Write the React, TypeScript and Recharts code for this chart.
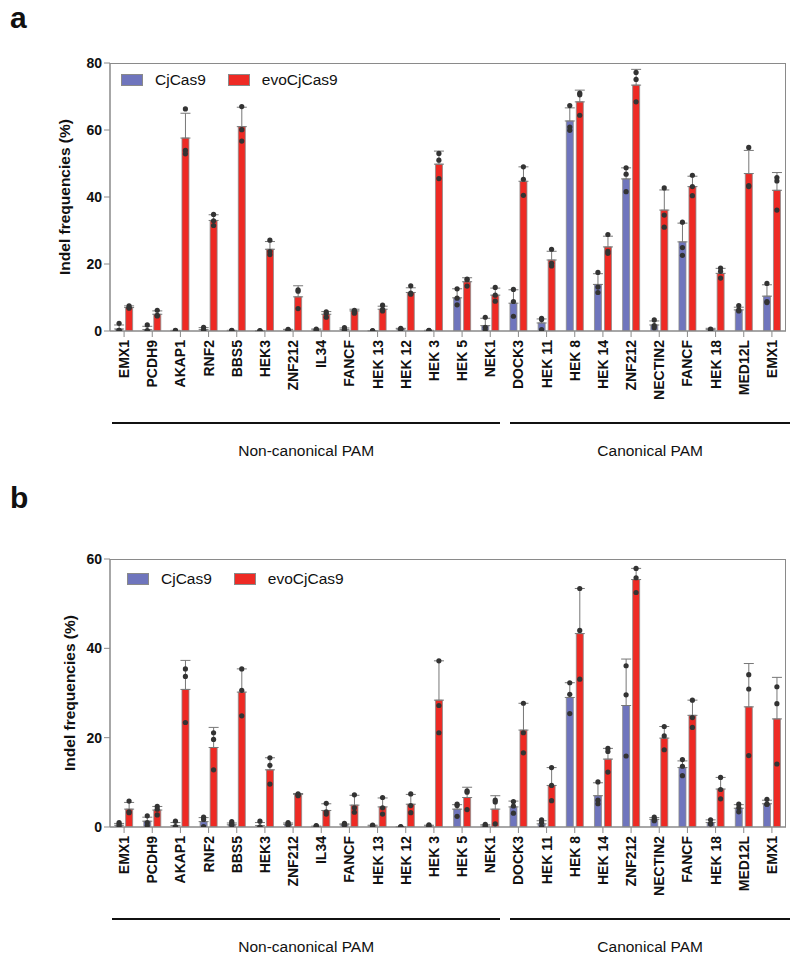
import {
  Bar,
  ComposedChart,
  ErrorBar,
  Legend,
  Scatter,
  XAxis,
  YAxis,
} from 'recharts'

const FONT = '"Liberation Sans", Arial, Helvetica, sans-serif'
const BLUE = '#6f75bd'
const RED = '#ee2a24'
const EDGE = '#8a8a8a'
const DOT = '#333333'

const SERIES = ['CjCas9', 'evoCjCas9']

const SITES = [
  'EMX1', 'PCDH9', 'AKAP1', 'RNF2', 'BBS5', 'HEK3', 'ZNF212', 'IL34', 'FANCF',
  'HEK 13', 'HEK 12', 'HEK 3', 'HEK 5', 'NEK1',
  'DOCK3', 'HEK 11', 'HEK 8', 'HEK 14', 'ZNF212', 'NECTIN2', 'FANCF', 'HEK 18',
  'MED12L', 'EMX1',
]

// panel a
const A_TICKS = [0, 20, 40, 60, 80]
const A_CJ = [0.6, 0.4, 0.1, 0.4, 0.1, 0.05, 0.3, 0.3, 0.4, 0.05, 0.6, 0.1, 9.9, 1.6, 8.3, 2.4, 62.7, 13.9, 45.4, 1.8, 26.6, 0.4, 6.3, 10.4]
const A_CJ_SD = [1.2, 1.0, 0.1, 0.6, 0.1, 0.05, 0.2, 0.3, 0.5, 0.05, 0.2, 0.1, 2.7, 2.2, 4.0, 1.2, 3.9, 3.2, 3.3, 1.2, 5.6, 0.4, 0.8, 3.4]
const A_EVO = [7.0, 5.0, 57.6, 33.0, 61.0, 24.4, 10.2, 5.0, 6.0, 6.5, 11.5, 49.8, 14.7, 10.7, 44.7, 21.2, 68.4, 25.1, 73.4, 36.1, 43.1, 17.2, 47.0, 42.0]
const A_EVO_SD = [0.5, 1.0, 7.4, 1.7, 5.8, 2.3, 3.3, 0.8, 0.5, 0.9, 1.4, 3.9, 1.2, 2.1, 4.3, 2.6, 3.5, 3.2, 4.7, 6.0, 3.1, 1.5, 6.9, 5.3]
const A_CJ_PTS = [
  [2.3, 0.2, 0.1], [1.8, 0.1, 0.0], [0.2, 0.1, 0.0], [1.1, 0.3, 0.1], [0.2, 0.1, 0.0],
  [0.1, 0.0, 0.0], [0.5, 0.3, 0.2], [0.6, 0.3, 0.1], [1.0, 0.3, 0.1], [0.1, 0.0, 0.0],
  [0.8, 0.6, 0.5], [0.2, 0.1, 0.0], [12.6, 9.8, 7.8], [4.1, 1.1, 0.3], [12.4, 8.8, 4.4],
  [3.8, 3.4, 0.4], [67.3, 60.9, 59.9], [17.5, 13.1, 11.5], [48.7, 46.8, 41.6], [3.3, 1.6, 1.0],
  [32.5, 24.9, 22.6], [0.6, 0.4, 0.1], [7.6, 6.3, 6.0], [14.2, 8.8, 8.5],
]
const A_EVO_PTS = [
  [7.5, 7.0, 6.8], [6.2, 4.7, 4.5], [66.3, 53.9, 52.9], [34.8, 32.9, 31.5], [67.0, 60.1, 56.7],
  [27.1, 23.7, 22.8], [12.3, 11.9, 6.7], [5.7, 5.2, 4.1], [6.2, 5.8, 5.3], [7.7, 6.5, 6.0],
  [13.5, 11.3, 11.0], [53.0, 51.0, 45.5], [15.5, 15.3, 13.4], [13.0, 10.7, 8.9], [49.0, 45.3, 40.5],
  [24.4, 20.2, 19.4], [71.0, 70.5, 64.4], [28.8, 23.8, 23.2], [77.2, 75.1, 68.4], [42.7, 34.6, 31.0],
  [46.5, 43.1, 40.4], [18.8, 17.8, 15.8], [54.8, 43.4, 43.1], [45.8, 44.8, 36.1],
]

// panel b
const B_TICKS = [0, 20, 40, 60]
const B_CJ = [0.4, 1.3, 0.3, 1.2, 0.5, 0.3, 0.6, 0.1, 0.5, 0.2, 0.05, 0.2, 4.0, 0.2, 4.5, 0.7, 29.0, 7.0, 27.2, 1.7, 13.3, 1.0, 4.2, 5.2]
const B_CJ_SD = [0.4, 0.9, 0.7, 0.9, 0.4, 0.7, 0.3, 0.1, 0.2, 0.2, 0.05, 0.2, 1.0, 0.3, 1.3, 0.7, 3.3, 2.9, 10.4, 0.4, 1.5, 0.6, 0.8, 0.8]
const B_EVO = [4.0, 3.8, 30.8, 17.8, 30.2, 12.8, 7.3, 3.7, 4.9, 4.5, 5.1, 28.4, 6.6, 4.0, 21.7, 9.3, 43.3, 15.2, 55.4, 19.9, 25.0, 8.5, 26.9, 24.2]
const B_EVO_SD = [1.5, 0.8, 6.5, 4.5, 5.2, 2.7, 0.2, 1.5, 2.2, 2.0, 2.2, 8.8, 2.3, 3.0, 6.0, 4.0, 10.1, 2.4, 2.5, 2.6, 3.4, 2.6, 9.7, 9.3]
const B_CJ_PTS = [
  [1.0, 0.6, 0.1], [2.5, 1.0, 0.3], [1.3, 0.1, 0.0], [2.2, 1.7, 0.1], [1.2, 0.8, 0.4],
  [1.3, 0.0, 0.0], [1.0, 0.7, 0.4], [0.3, 0.2, 0.1], [0.8, 0.6, 0.4], [0.4, 0.3, 0.1],
  [0.1, 0.0, 0.0], [0.5, 0.3, 0.1], [5.1, 4.8, 2.4], [0.6, 0.3, 0.0], [5.7, 4.7, 3.1],
  [1.6, 1.0, 0.1], [32.3, 29.7, 25.4], [10.1, 6.0, 5.2], [36.1, 29.6, 15.9], [2.2, 1.7, 1.4],
  [15.1, 13.6, 11.5], [1.6, 0.7, 0.7], [5.1, 4.3, 3.4], [6.2, 5.1, 5.1],
]
const B_EVO_PTS = [
  [5.8, 3.4, 3.2], [4.6, 4.0, 2.7], [35.4, 33.7, 23.4], [21.1, 19.6, 12.8], [35.4, 30.6, 24.9],
  [15.5, 13.8, 9.6], [7.4, 7.2, 7.0], [5.3, 3.4, 2.9], [7.2, 4.3, 3.3], [6.6, 4.3, 2.9],
  [7.4, 4.8, 3.2], [37.2, 27.2, 21.1], [8.1, 7.8, 3.9], [6.0, 5.6, 0.7], [27.7, 21.1, 16.6],
  [13.3, 9.3, 5.9], [53.4, 44.0, 33.1], [17.6, 16.9, 12.3], [57.9, 55.8, 52.5], [22.5, 20.4, 17.3],
  [28.4, 24.5, 22.3], [11.1, 8.4, 6.3], [34.1, 30.9, 16.0], [31.4, 27.6, 14.1],
]

// site groups (first index, last index)
const GROUPS = [
  { label: 'Non-canonical PAM', from: 0, to: 13 },
  { label: 'Canonical PAM', from: 14, to: 23 },
]

// bar centre offset from category centre, in category units
const DOT_SHIFT = 0.177

const PLOT_LEFT = 110
const PLOT_W = 676
const PLOT_H = 268

const CatTick = ({ x, y, payload }: any) => (
  <text
    x={x}
    y={y}
    dx={-1}
    dy="0.36em"
    transform={`rotate(-90 ${x} ${y})`}
    textAnchor="end"
    fontFamily={FONT}
    fontWeight="bold"
    fontSize={14}
    fill="#111"
  >
    {payload.value}
  </text>
)

const LegendBox = ({ payload }: any) => (
  <div style={{ display: 'flex', alignItems: 'center', fontFamily: FONT, fontSize: 15.5, color: '#111' }}>
    {(payload || [])
      .filter((p: any) => SERIES.includes(p.value))
      .map((p: any, i: number) => (
        <div key={i} style={{ display: 'flex', alignItems: 'center', marginRight: 22 }}>
          <span
            style={{
              width: 20,
              height: 10,
              background: p.color,
              border: `1px solid ${EDGE}`,
              marginRight: 12,
              display: 'inline-block',
            }}
          />
          <span>{p.value}</span>
        </div>
      ))}
  </div>
)

interface PanelProps {
  letter: string
  top: number
  cj: number[]
  cjSd: number[]
  evo: number[]
  evoSd: number[]
  cjPts: number[][]
  evoPts: number[][]
  ticks: number[]
  plotTop: number
  legendTop: number
  legendLeft: number
  labelX: number
}

function Panel(p: PanelProps) {
  const max = p.ticks[p.ticks.length - 1]
  const rows = SITES.map((name, i) => ({
    name,
    cj: p.cj[i],
    evo: p.evo[i],
    cjErr: [0, p.cjSd[i]],
    evoErr: [0, p.evoSd[i]],
  }))
  const cjDots = p.cjPts.flatMap((v, i) => v.map((y) => ({ x: i - DOT_SHIFT, y })))
  const evoDots = p.evoPts.flatMap((v, i) => v.map((y) => ({ x: i + DOT_SHIFT, y })))
  const height = p.plotTop + PLOT_H + 80
  const dot = (s: any) => <circle cx={s.cx} cy={s.cy} r={2.6} fill={DOT} />

  return (
    <div style={{ position: 'absolute', left: 0, top: p.top, width: 800, height: 481 }}>
      <svg width={60} height={40} style={{ position: 'absolute', left: 0, top: 0 }}>
        <text x={10} y={27.5} fontFamily={FONT} fontWeight="bold" fontSize={30} fill="#111">
          {p.letter}
        </text>
      </svg>
      <div
        style={{
          position: 'absolute',
          left: p.labelX - 100,
          top: p.plotTop + PLOT_H / 2 - 10,
          width: 200,
          height: 20,
          textAlign: 'center',
          transform: 'rotate(-90deg)',
          fontFamily: FONT,
          fontWeight: 'bold',
          fontSize: 15.5,
          color: '#111',
          lineHeight: '20px',
        }}
      >
        Indel frequencies (%)
      </div>
      {/* top and right edges of the plot frame */}
      <div
        style={{
          position: 'absolute',
          left: PLOT_LEFT,
          top: p.plotTop,
          width: PLOT_W,
          height: PLOT_H,
          borderTop: `1.5px solid ${EDGE}`,
          borderRight: `1.5px solid ${EDGE}`,
          boxSizing: 'border-box',
          pointerEvents: 'none',
        }}
      />
      <ComposedChart
        width={800}
        height={height}
        data={rows}
        margin={{ top: p.plotTop, right: 800 - PLOT_LEFT - PLOT_W, left: 0, bottom: 0 }}
        barCategoryGap="20%"
        barGap={3}
        style={{ position: 'absolute', left: 0, top: 0 }}
      >
        <XAxis
          dataKey="name"
          interval={0}
          height={80}
          tick={<CatTick />}
          tickSize={6}
          axisLine={{ stroke: EDGE, strokeWidth: 1.5 }}
          tickLine={{ stroke: EDGE }}
        />
        <XAxis
          xAxisId="dots"
          type="number"
          dataKey="x"
          domain={[-0.5, SITES.length - 0.5]}
          allowDataOverflow
          hide
        />
        <YAxis
          width={PLOT_LEFT}
          domain={[0, max]}
          ticks={p.ticks}
          allowDataOverflow
          tickSize={6}
          axisLine={{ stroke: EDGE, strokeWidth: 1.5 }}
          tickLine={{ stroke: EDGE }}
          tick={{ fontFamily: FONT, fontWeight: 'bold', fontSize: 14, fill: '#111' }}
        />
        <Legend
          layout="horizontal"
          verticalAlign="middle"
          align="center"
          wrapperStyle={{ top: p.legendTop, left: p.legendLeft, width: 'auto' }}
          content={<LegendBox />}
        />
        <Bar dataKey="cj" name={SERIES[0]} fill={BLUE} stroke={EDGE} strokeWidth={0.8} isAnimationActive={false}>
          <ErrorBar dataKey="cjErr" width={5} stroke="#777" strokeWidth={1} />
        </Bar>
        <Bar dataKey="evo" name={SERIES[1]} fill={RED} stroke={EDGE} strokeWidth={0.8} isAnimationActive={false}>
          <ErrorBar dataKey="evoErr" width={5} stroke="#777" strokeWidth={1} />
        </Bar>
        <Scatter xAxisId="dots" data={cjDots} dataKey="y" legendType="none" shape={dot} isAnimationActive={false} />
        <Scatter xAxisId="dots" data={evoDots} dataKey="y" legendType="none" shape={dot} isAnimationActive={false} />
      </ComposedChart>
      {GROUPS.map((g) => {
        const band = PLOT_W / SITES.length
        const x1 = PLOT_LEFT + g.from * band + (g.from === 0 ? 2 : 6)
        const x2 = PLOT_LEFT + (g.to + 1) * band + (g.to === SITES.length - 1 ? 4 : -4)
        const lineY = p.plotTop + PLOT_H + 91
        return (
          <div key={g.label}>
            <div style={{ position: 'absolute', left: x1, top: lineY, width: x2 - x1, height: 2, background: '#111' }} />
            <div
              style={{
                position: 'absolute',
                left: x1,
                width: x2 - x1,
                top: lineY + 20,
                textAlign: 'center',
                fontFamily: FONT,
                fontSize: 15.5,
                color: '#111',
              }}
            >
              {g.label}
            </div>
          </div>
        )
      })}
    </div>
  )
}

export default function App() {
  return (
    <div style={{ position: 'absolute', left: 0, top: 0, width: 800, height: 962, background: '#fff' }}>
      <Panel
        letter="a"
        top={0}
        cj={A_CJ}
        cjSd={A_CJ_SD}
        evo={A_EVO}
        evoSd={A_EVO_SD}
        cjPts={A_CJ_PTS}
        evoPts={A_EVO_PTS}
        ticks={A_TICKS}
        plotTop={63}
        legendTop={71}
        legendLeft={121}
        labelX={65}
      />
      <Panel
        letter="b"
        top={480}
        cj={B_CJ}
        cjSd={B_CJ_SD}
        evo={B_EVO}
        evoSd={B_EVO_SD}
        cjPts={B_CJ_PTS}
        evoPts={B_EVO_PTS}
        ticks={B_TICKS}
        plotTop={79}
        legendTop={90}
        legendLeft={127}
        labelX={70}
      />
    </div>
  )
}
